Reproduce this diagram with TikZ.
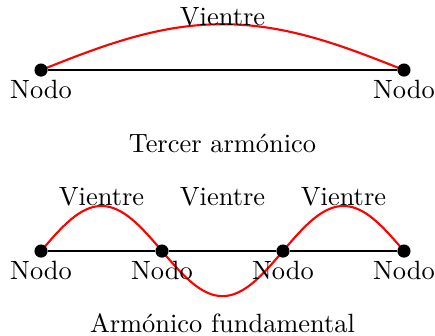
\documentclass[tikz,border=0pt]{standalone}
\usepackage{tikz}

\begin{document}
\begin{tikzpicture}[
  every node/.style={font=\normalsize},
  dot/.style={circle, fill=black, inner sep=0pt, minimum size=1.75mm},
  nodolabel/.style={anchor=north, inner sep=0pt},
  vientrelabel/.style={anchor=base, inner sep=0pt},
  titlelabel/.style={anchor=base, inner sep=0pt},
  string/.style={thick, black},
  wave/.style={thick, red},
]
\useasboundingbox (-0.546,-1.118) rectangle (5.243,3.341);

% ---- upper string ----
\draw[wave] plot[domain=0:4.83, samples=60, smooth] (\x, {2.409 + 0.61*sin(\x*180/4.83)});
\node[dot] (u1) at (0, 2.409)    {};
\node[dot] (u2) at (4.83, 2.409) {};
\draw[string] (u1) -- (u2);

\node[nodolabel] (ul1) at (0, 2.276)    {Nodo};
\node[nodolabel] (ul2) at (4.83, 2.276) {Nodo};
\node[vientrelabel] (uv1) at (2.415, 3.008) {Vientre};
\node[titlelabel] (ut) at (2.415, 1.318) {Tercer armónico};

% ---- lower string ----
\draw[wave] plot[domain=0:4.83, samples=120, smooth] (\x, {0.6*sin(\x*180/1.61)});
\node[dot] (b1) at (0, 0)    {};
\node[dot] (b2) at (1.61, 0) {};
\node[dot] (b3) at (3.22, 0) {};
\node[dot] (b4) at (4.83, 0) {};
\draw[string] (b1) -- (b2);
\draw[string] (b2) -- (b3);
\draw[string] (b3) -- (b4);

\node[nodolabel] (bl1) at (0, -0.133)    {Nodo};
\node[nodolabel] (bl2) at (1.61, -0.133) {Nodo};
\node[nodolabel] (bl3) at (3.22, -0.133) {Nodo};
\node[nodolabel] (bl4) at (4.83, -0.133) {Nodo};
\node[vientrelabel] (bv1) at (0.805, 0.612) {Vientre};
\node[vientrelabel] (bv2) at (2.415, 0.612) {Vientre};
\node[vientrelabel] (bv3) at (4.025, 0.612) {Vientre};
\node[titlelabel] (bt) at (2.415, -1.078) {Armónico fundamental};

\end{tikzpicture}
\end{document}
